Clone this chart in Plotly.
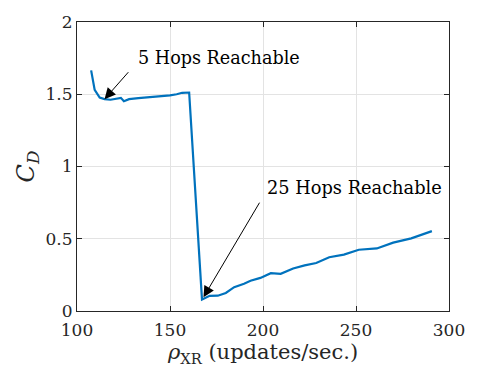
import plotly.graph_objects as go

rho = [107.6, 109.5, 112.2, 114.8, 118.0, 121.7, 123.6, 125.2, 128.0, 133.0, 136.0,
       139.7, 143.0, 145.5, 150.0, 153.6, 156.5, 160.3, 163.0, 167.2,
       171.3, 175.7, 180.0, 184.5, 189.8, 193.3, 198.6, 204.2, 209.5, 216.2,
       222.4, 228.6, 235.6, 243.5, 251.5, 261.2, 270.0, 279.7, 290.8]
cd = [1.665, 1.53, 1.477, 1.466, 1.462, 1.468, 1.475, 1.452, 1.466, 1.473, 1.476,
      1.483, 1.485, 1.49, 1.492, 1.50, 1.51, 1.512, 0.95, 0.08,
      0.105, 0.106, 0.125, 0.165, 0.189, 0.209, 0.229, 0.262, 0.257, 0.294,
      0.316, 0.332, 0.372, 0.39, 0.424, 0.433, 0.473, 0.503, 0.553]

x_ticks = [100, 150, 200, 250, 300]
y_ticks = [0, 0.5, 1, 1.5, 2]
y_tick_labels = ["0", "0.5", "1", "1.5", "2"]

font = "DejaVu Serif"
axcol = "#262626"

fig = go.Figure()
fig.add_trace(go.Scatter(x=rho, y=cd, mode="lines",
                         line=dict(color="#0072BD", width=2.2), showlegend=False))

# arrows
fig.add_annotation(x=114.8, y=1.466, ax=128.3, ay=1.663, xref="x", yref="y",
                   axref="x", ayref="y", text="", showarrow=True,
                   arrowhead=2, arrowsize=2.2, arrowwidth=1, arrowcolor="black")
fig.add_annotation(x=168.0, y=0.095, ax=198.6, ay=0.76, xref="x", yref="y",
                   axref="x", ayref="y", text="", showarrow=True,
                   arrowhead=2, arrowsize=2.2, arrowwidth=1, arrowcolor="black")
# labels
fig.add_annotation(x=131.6, y=1.751, xref="x", yref="y", text="5 Hops Reachable",
                   showarrow=False, xanchor="left", yanchor="middle",
                   font=dict(family=font, size=17.6, color="black"))
fig.add_annotation(x=201.2, y=0.855, xref="x", yref="y", text="25 Hops Reachable",
                   showarrow=False, xanchor="left", yanchor="middle",
                   font=dict(family=font, size=17.8, color="black"))

fig.update_layout(
    width=477, height=371,
    margin=dict(l=77, r=22, t=15, b=59),
    plot_bgcolor="white", paper_bgcolor="white",
    font=dict(family=font, size=18, color=axcol),
)
fig.update_xaxes(range=[100, 300], tickvals=x_ticks, ticks="inside", ticklen=5,
                 tickcolor=axcol, showline=True, linecolor=axcol, linewidth=1,
                 mirror="ticks", showgrid=True, gridcolor="#e3e3e3", gridwidth=1,
                 zeroline=False, tickfont=dict(family=font, size=17, color=axcol),
                 ticklabelstandoff=4,
                 title=dict(text="<i>ρ</i><sub>XR</sub> (updates/sec.)",
                            font=dict(family=font, size=21, color=axcol), standoff=4))
fig.update_yaxes(range=[0, 2], tickvals=y_ticks, ticktext=y_tick_labels,
                 ticks="inside", ticklen=5, tickcolor=axcol, showline=True,
                 linecolor=axcol, linewidth=1, mirror="ticks", showgrid=True,
                 gridcolor="#e3e3e3", gridwidth=1, zeroline=False,
                 tickfont=dict(family=font, size=17, color=axcol),
                 title=dict(text="<i>C</i><sub><i>D</i></sub>",
                            font=dict(family=font, size=24, color=axcol), standoff=4))

fig.write_html("out.html")
